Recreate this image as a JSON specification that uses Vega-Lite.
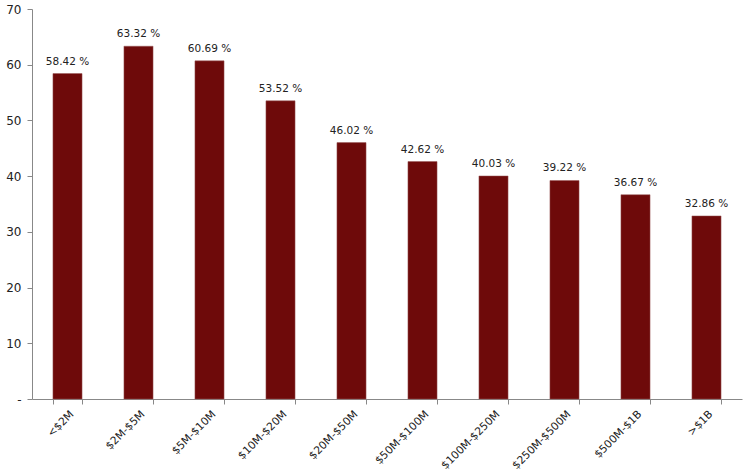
{
  "$schema": "https://vega.github.io/schema/vega-lite/v6.json",
  "width": 710,
  "height": 390,
  "autosize": {"type": "none"},
  "padding": {"left": 32, "top": 9, "right": 8, "bottom": 72},
  "background": "white",
  "data": {"values": [
    {"range": "<$2M", "pct": 58.42},
    {"range": "$2M-$5M", "pct": 63.32},
    {"range": "$5M-$10M", "pct": 60.69},
    {"range": "$10M-$20M", "pct": 53.52},
    {"range": "$20M-$50M", "pct": 46.02},
    {"range": "$50M-$100M", "pct": 42.62},
    {"range": "$100M-$250M", "pct": 40.03},
    {"range": "$250M-$500M", "pct": 39.22},
    {"range": "$500M-$1B", "pct": 36.67},
    {"range": ">$1B", "pct": 32.86}
  ]},
  "config": {
    "view": {"stroke": null},
    "font": "DejaVu Sans"
  },
  "encoding": {
    "x": {
      "field": "range", "type": "nominal", "sort": null,
      "scale": {"paddingInner": 0.59, "paddingOuter": 0.295},
      "axis": {
        "title": null, "labelAngle": -45, "labelAlign": "right", "labelBaseline": "top",
        "labelFontSize": 10.8, "labelColor": "#222", "labelPadding": 4,
        "tickBand": "extent", "tickSize": 5, "tickColor": "#888", "domainColor": "#888",
        "labelFont": "DejaVu Sans"
      }
    },
    "y": {
      "field": "pct", "type": "quantitative",
      "scale": {"domain": [0, 70], "nice": false},
      "axis": {
        "title": null, "values": [0, 10, 20, 30, 40, 50, 60, 70], "grid": false,
        "labelExpr": "datum.value == 0 ? '-' : datum.label",
        "labelFontSize": 12, "labelColor": "#222", "labelPadding": 6,
        "tickSize": 5, "tickColor": "#888", "domainColor": "#888"
      }
    }
  },
  "layer": [
    {"mark": {"type": "bar", "color": "#6E0A0A", "stroke": "#9a5a5a", "strokeWidth": 0.5}},
    {
      "transform": [{"calculate": "format(datum.pct, '.2f') + ' %'", "as": "lbl"}],
      "mark": {"type": "text", "dy": -7, "fontSize": 10.5, "color": "#222", "baseline": "bottom"},
      "encoding": {"text": {"field": "lbl", "type": "nominal"}}
    }
  ]
}
